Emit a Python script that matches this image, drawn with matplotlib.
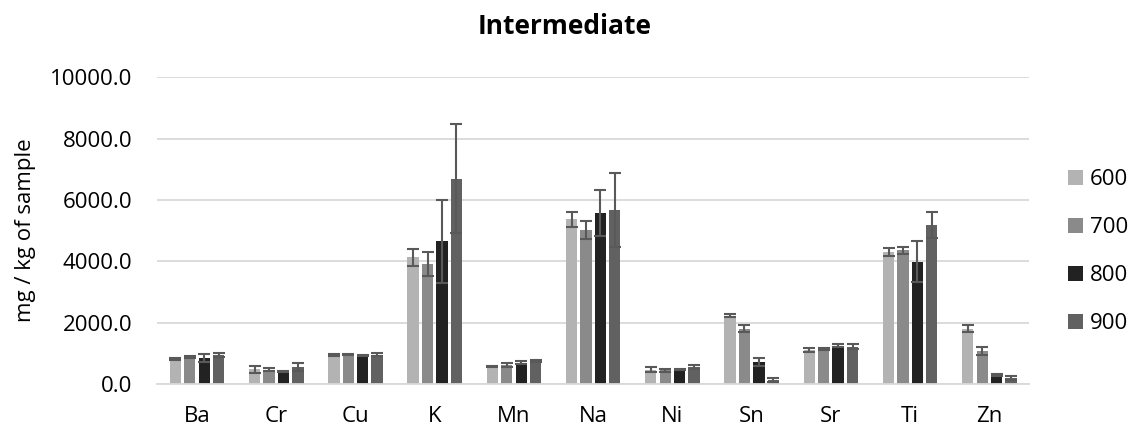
import matplotlib
matplotlib.use("Agg")
import matplotlib.pyplot as plt
import numpy as np

categories = ["Ba", "Cr", "Cu", "K", "Mn", "Na", "Ni", "Sn", "Sr", "Ti", "Zn"]
series_names = ["600", "700", "800", "900"]

vals_600 = [820, 480, 940, 4130, 570, 5370, 470, 2220, 1110, 4300, 1800]
vals_700 = [870, 470, 950, 3920, 630, 5030, 450, 1800, 1150, 4360, 1080]
vals_800 = [840, 420, 940, 4650, 700, 5570, 480, 720, 1250, 3990, 300]
vals_900 = [930, 560, 960, 6700, 750, 5680, 560, 130, 1220, 5190, 200]

err_600 = [30, 115, 30, 270, 20, 240, 80, 50, 65, 125, 120]
err_700 = [30, 55, 20, 390, 65, 290, 50, 120, 30, 120, 135]
err_800 = [135, 20, 15, 1350, 50, 750, 20, 140, 50, 680, 30]
err_900 = [65, 125, 50, 1780, 25, 1210, 60, 70, 85, 420, 70]

colors = ["#B3B3B3", "#8A8A8A", "#222222", "#616161"]

plt.rcParams['font.family'] = ['Open Sans', 'DejaVu Sans']

fig = plt.figure(figsize=(11.36, 4.29), dpi=100)
ax = fig.add_axes([157.4 / 1136, 45 / 429, (1029 - 157.4) / 1136, 306.7 / 429])

x = np.arange(len(categories))
pitch = 0.182
width = 0.143
all_vals = [vals_600, vals_700, vals_800, vals_900]
all_errs = [err_600, err_700, err_800, err_900]
for i, (v, e) in enumerate(zip(all_vals, all_errs)):
    off = (i - 1.5) * pitch
    ax.bar(x + off, v, width=width, color=colors[i], label=series_names[i], zorder=2)
    ax.errorbar(x + off, v, yerr=e, fmt="none", ecolor="#595959", elinewidth=1.5,
                capsize=4.3, capthick=1.5, zorder=3)

ax.set_xlim(-0.5, len(categories) - 0.5)
ax.set_ylim(0, 10000)
ax.set_yticks(np.arange(0, 10001, 2000))
ax.set_yticklabels([f"{t:.1f}" for t in np.arange(0, 10001, 2000)])
ax.set_xticks(x)
ax.set_xticklabels(categories)
ax.yaxis.grid(True, color="#D9D9D9", linewidth=1.3, zorder=0)
ax.set_axisbelow(True)
for s in ["top", "right", "left"]:
    ax.spines[s].set_visible(False)
ax.spines["bottom"].set_color("#D9D9D9")
ax.spines["bottom"].set_linewidth(1.3)
ax.tick_params(axis="both", length=0, labelsize=16, colors="black")
ax.tick_params(axis="y", pad=18)
ax.tick_params(axis="x", pad=16)

ax.set_ylabel("mg / kg of sample", fontsize=16, labelpad=10)
fig.text(565 / 1136, 1 - 27 / 429, "Intermediate", ha="center", va="center",
         fontsize=19, fontweight="bold")

leg = ax.legend(loc="upper left", bbox_to_anchor=(1068 / 1136, 1 - 169 / 429),
                bbox_transform=fig.transFigure, frameon=False, fontsize=16,
                handlelength=0.68, handleheight=0.68, handletextpad=0.3,
                labelspacing=1.22, borderpad=0, borderaxespad=0)

fig.savefig("out.png", dpi=100)
